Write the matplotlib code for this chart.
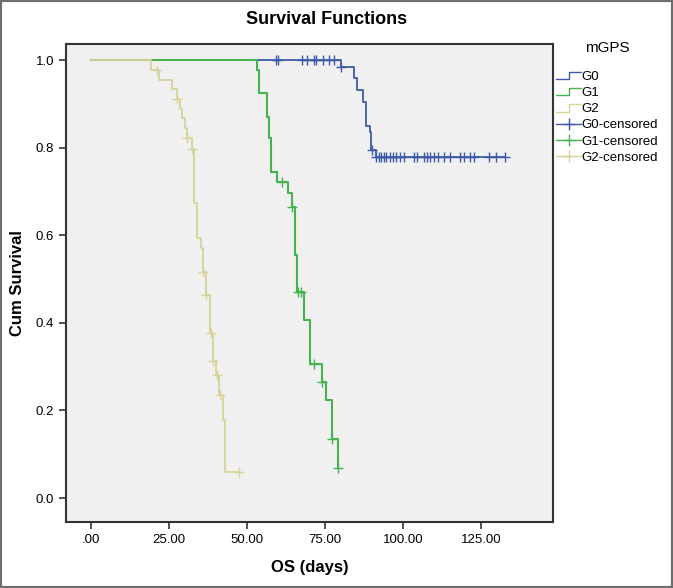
import numpy as np
import matplotlib
matplotlib.use("Agg")
import matplotlib.pyplot as plt
from matplotlib.lines import Line2D
from matplotlib.legend_handler import HandlerBase
from matplotlib.patches import Rectangle

plt.rcParams['font.family'] = ['Liberation Sans Narrow', 'Liberation Sans', 'DejaVu Sans']

# Kaplan-Meier steps (time in days, survival after the drop)
g0_time = [80.0, 84.1, 85.1, 87.1, 88.1, 89.2, 89.6, 91.3]
g0_surv = [0.984, 0.960, 0.932, 0.905, 0.849, 0.836, 0.795, 0.779]
g0_cens = [59.2, 60.0, 67.5, 69.2, 71.5, 72.1, 74.3, 76.1, 77.7, 80.0, 90.0,
           91.4, 92.1, 92.8, 93.7, 94.6, 95.6, 96.7, 97.8, 98.8, 100.1, 103.3,
           104.4, 106.5, 107.6, 108.7, 109.9, 111.0, 112.9, 114.8, 118.3, 119.3,
           121.5, 122.5, 127.5, 129.8, 132.5]

g1_time = [53.1, 53.8, 56.3, 57.0, 57.7, 59.7, 63.2, 64.3, 65.4, 66.1, 68.3,
           70.2, 74.1, 75.2, 77.1, 79.0]
g1_surv = [0.977, 0.924, 0.871, 0.821, 0.745, 0.722, 0.696, 0.665, 0.555, 0.471,
           0.406, 0.306, 0.266, 0.224, 0.135, 0.068]
g1_cens = [61.1, 64.3, 66.4, 67.2, 71.3, 74.1, 77.1, 79.0]

g2_time = [19.2, 21.8, 25.8, 27.4, 28.5, 29.2, 30.1, 30.9, 32.2, 33.1, 33.8,
           35.1, 36.0, 36.9, 38.1, 39.0, 40.1, 41.1, 42.2, 43.0]
g2_surv = [0.977, 0.955, 0.933, 0.911, 0.889, 0.867, 0.844, 0.821, 0.798, 0.673,
           0.593, 0.570, 0.517, 0.463, 0.376, 0.313, 0.281, 0.235, 0.178, 0.060]
g2_cens = [21.0, 27.4, 30.9, 32.2, 36.0, 36.9, 38.3, 39.2, 40.3, 41.3, 47.5]

groups = ['G0', 'G1', 'G2']
colors = ['#3f5aa9', '#45b34f', '#d6d39b']
x_ticks = [0, 25, 50, 75, 100, 125]
x_labels = ['.00', '25.00', '50.00', '75.00', '100.00', '125.00']
y_ticks = [0.0, 0.2, 0.4, 0.6, 0.8, 1.0]


class StepHandler(HandlerBase):
    # little step glyph like the SPSS legend
    def create_artists(self, legend, orig_handle, xdescent, ydescent,
                       width, height, fontsize, trans):
        lo = height * 0.05
        hi = height * 0.85
        xs = [0, width * 0.5, width * 0.5, width]
        ys = [lo, lo, hi, hi]
        ln = Line2D(xs, ys, color=orig_handle.get_color(), lw=1.0)
        ln.set_transform(trans)
        return [ln]


def surv_at(t, times, surv):
    idx = np.searchsorted(times, t, side='right')
    return np.where(idx == 0, 1.0, np.array([1.0] + list(surv))[idx])


fig = plt.figure(figsize=(6.73, 5.88), dpi=100)
ax = fig.add_axes([0.098, 0.112, 0.724, 0.813])
ax.set_facecolor('#f0f0f0')

data = [(g0_time, g0_surv, g0_cens), (g1_time, g1_surv, g1_cens), (g2_time, g2_surv, g2_cens)]
widths = [1.3, 1.5, 1.3]
for (times, surv, cens), c, w in zip(data, colors, widths):
    end = max(max(times), max(cens))
    xs = [0] + times + [end]
    ys = [1.0] + surv + [surv[-1]]
    ax.step(xs, ys, where='post', color=c, lw=w)
    cy = surv_at(np.array(cens), times, surv)
    ax.plot(cens, cy, ls='none', marker='+', ms=7.5, mew=1.0, color=c)

ax.set_xlim(-8, 148)
ax.set_ylim(-0.055, 1.0365)
ax.set_xticks(x_ticks)
ax.set_xticklabels(x_labels)
ax.set_yticks(y_ticks)
ax.set_yticklabels(['%.1f' % v for v in y_ticks])
ax.tick_params(direction='out', length=5, width=1.2, color='#333333', labelsize=9.5)
for s in ax.spines.values():
    s.set_color('#333333')
    s.set_linewidth(1.5)

ax.set_xlabel('OS (days)', fontsize=12, fontweight='bold', labelpad=10)
ax.set_ylabel('Cum Survival', fontsize=12, fontweight='bold', labelpad=8)
fig.text(0.485, 0.967, 'Survival Functions', ha='center', va='center',
         fontsize=13, fontweight='bold')

handles = [Line2D([], [], color=c) for c in colors]
handles += [Line2D([], [], color=c, marker='+', ms=9, mew=1.0, lw=1.0) for c in colors]
labels = groups + [g + '-censored' for g in groups]
leg = ax.legend(handles, labels, loc='upper left', bbox_to_anchor=(0.995, 1.017),
                frameon=False, title='mGPS', fontsize=9.5, title_fontsize=11,
                handlelength=1.9, handletextpad=0.05, labelspacing=0.3,
                borderaxespad=0.0,
                handler_map={h: StepHandler() for h in handles[:3]})
leg._legend_box.sep = 11

fig.patches.append(Rectangle((0, 0), 1, 1, transform=fig.transFigure, fill=False,
                             edgecolor='#6e6e6e', lw=3))

plt.savefig('out.png', dpi=100)
